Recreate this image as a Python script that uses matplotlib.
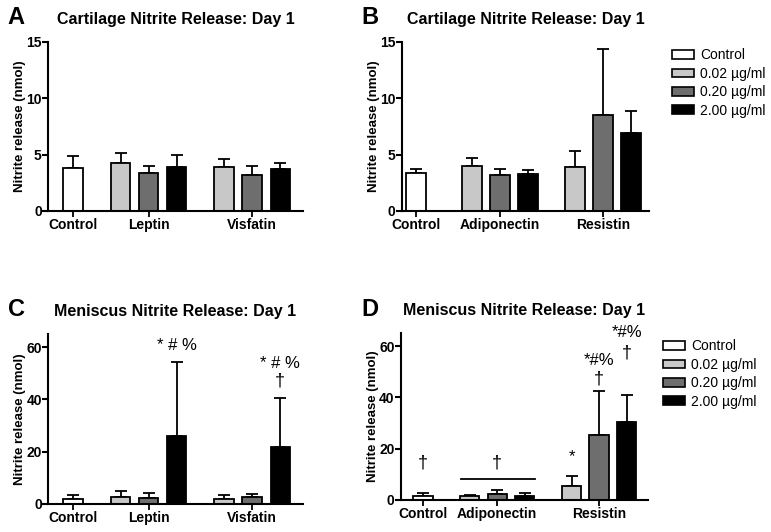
import matplotlib
matplotlib.use("Agg")
import matplotlib.pyplot as plt
from matplotlib.patches import Patch

plt.rcParams['font.family'] = ['Liberation Sans', 'DejaVu Sans']

# Data
doses = ["Control", "0.02 µg/ml", "0.20 µg/ml", "2.00 µg/ml"]
dose_colors = ["white", "#c8c8c8", "#6e6e6e", "black"]
bar_dose = [0, 1, 2, 3, 1, 2, 3]

a_groups = ["Control", "Leptin", "Visfatin"]
a_mean = [3.8, 4.3, 3.37, 3.88, 3.88, 3.17, 3.73]
a_err = [1.12, 0.89, 0.65, 1.09, 0.71, 0.85, 0.56]

b_groups = ["Control", "Adiponectin", "Resistin"]
b_mean = [3.33, 3.98, 3.22, 3.27, 3.86, 8.55, 6.93]
b_err = [0.36, 0.71, 0.47, 0.33, 1.42, 5.85, 1.95]

c_groups = ["Control", "Leptin", "Visfatin"]
c_mean = [1.67, 2.45, 2.06, 25.9, 1.93, 2.7, 21.6]
c_err = [1.83, 2.31, 1.94, 28.5, 1.27, 1.0, 19.1]
c_marks = [(3, 60.7, "* # %"), (6, 53.9, "* # %"), (6, 47.2, "†")]

d_groups = ["Control", "Adiponectin", "Resistin"]
d_mean = [1.56, 1.43, 2.2, 1.7, 5.47, 25.5, 30.2]
d_err = [1.04, 0.67, 1.7, 1.0, 4.03, 17.1, 10.9]
d_marks = [(0, 14.5, "†"), (2, 14.5, "†"), (4, 17.0, "*"),
           (5, 47.0, "†"), (5, 54.4, "*#%"), (6, 57.4, "†"), (6, 65.2, "*#%")]

title_c = "Cartilage Nitrite Release: Day 1"
title_m = "Meniscus Nitrite Release: Day 1"
ylab = "Nitrite release (nmol)"


def bar_positions(gap1, gap2):
    pos = [0.0]
    x = gap1
    for i in range(3):
        pos.append(x + i)
    x = pos[-1] + gap2
    for i in range(3):
        pos.append(x + i)
    return pos


def draw_panel(rect, title, groups, mean, err, pos, ylim, yticks, xlim):
    ax = fig.add_axes(rect)
    colors = [dose_colors[d] for d in bar_dose]
    ax.bar(pos, mean, width=0.7, color=colors, edgecolor="black", linewidth=1.3, zorder=2)
    ax.errorbar(pos, mean, yerr=[[0] * len(err), err], fmt="none", ecolor="black",
                elinewidth=1.3, capsize=4.5, capthick=1.3, zorder=1)
    ax.set_xlim(*xlim)
    ax.set_ylim(*ylim)
    ax.set_yticks(yticks)
    ax.set_xticks([pos[0], pos[2], pos[5]])
    ax.set_xticklabels(groups, fontsize=10, fontweight="bold")
    for t in ax.get_yticklabels():
        t.set_fontsize(10)
        t.set_fontweight("bold")
    ax.set_ylabel(ylab, fontsize=9.5, fontweight="bold", labelpad=0)
    for s in ["top", "right"]:
        ax.spines[s].set_visible(False)
    for s in ["left", "bottom"]:
        ax.spines[s].set_linewidth(1.5)
    ax.tick_params(axis="y", width=1.5, length=4, pad=0.5)
    ax.tick_params(axis="x", width=1.3, length=4, pad=1)
    ax.set_title(title, fontsize=11.5, fontweight="bold", pad=13)
    return ax


fig = plt.figure(figsize=(7.71, 5.32), dpi=100)

pos_std = bar_positions(1.7, 1.7)
pos_b = bar_positions(2.0, 1.68)

ax_a = draw_panel([0.0623, 0.6034, 0.3307, 0.3177], title_c, a_groups, a_mean, a_err,
                  pos_std, (0, 15), [0, 5, 10, 15], (-0.89, 8.21))
ax_b = draw_panel([0.5214, 0.6034, 0.3204, 0.3177], title_c, b_groups, b_mean, b_err,
                  pos_b, (0, 15), [0, 5, 10, 15], (-0.5, 8.32))
ax_c = draw_panel([0.0623, 0.0532, 0.3307, 0.3184], title_m, c_groups, c_mean, c_err,
                  pos_std, (0, 65), [0, 20, 40, 60], (-0.89, 8.21))
ax_d = draw_panel([0.5201, 0.0602, 0.3204, 0.3135], title_m, d_groups, d_mean, d_err,
                  pos_std, (0, 65), [0, 20, 40, 60], (-0.8, 8.18))

for ax, marks in [(ax_c, c_marks), (ax_d, d_marks)]:
    for i, y, s in marks:
        ax.text(pos_std[i], y, s, ha="center", va="center",
                fontsize=13 if s == "†" else 12, clip_on=False)

# bracket over adiponectin group in D
ax_d.plot([pos_std[1] - 0.32, pos_std[3] + 0.37], [8.2, 8.2], color="black", lw=1.3, clip_on=False)

# panel letters
for letter, x, y in [("A", 0.010, 0.968), ("B", 0.469, 0.968),
                     ("C", 0.010, 0.418), ("D", 0.469, 0.418)]:
    fig.text(x, y, letter, fontsize=17, fontweight="bold", va="center", ha="left")

handles = [Patch(facecolor=c, edgecolor="black", linewidth=1.2) for c in dose_colors]
fig.legend(handles, doses, loc="upper left", bbox_to_anchor=(0.8716, 0.909), frameon=False,
           fontsize=10, handlelength=1.55, handleheight=0.6, handletextpad=0.45,
           labelspacing=0.32, borderpad=0, borderaxespad=0)
fig.legend(handles, doses, loc="upper left", bbox_to_anchor=(0.860, 0.362), frameon=False,
           fontsize=10, handlelength=1.55, handleheight=0.6, handletextpad=0.45,
           labelspacing=0.32, borderpad=0, borderaxespad=0)

fig.savefig("out.png", dpi=100)
